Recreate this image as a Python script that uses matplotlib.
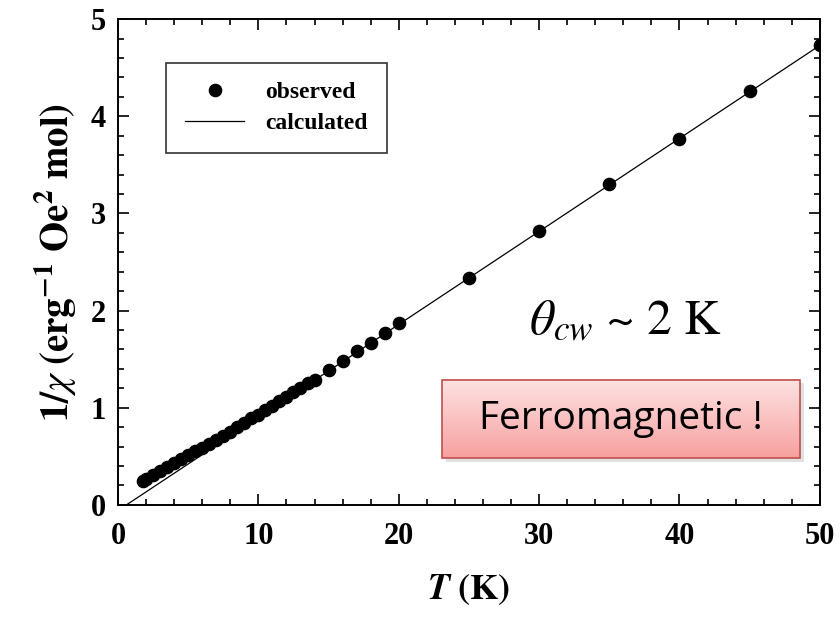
import matplotlib
matplotlib.use('Agg')
import matplotlib.pyplot as plt
import numpy as np
from matplotlib.patches import Rectangle
from matplotlib.ticker import MultipleLocator

plt.rcParams['mathtext.fontset'] = 'stix'

# observed 1/chi data
T_obs = [1.8, 2.0, 2.5, 3.0, 3.5, 4.0, 4.5, 5.0, 5.5, 6.0, 6.5, 7.0, 7.5, 8.0,
         8.5, 9.0, 9.5, 10.0, 10.5, 11.0, 11.5, 12.0, 12.5, 13.0, 13.5, 14.0,
         15, 16, 17, 18, 19, 20, 25, 30, 35, 40, 45, 50]
inv_chi_obs = [0.25, 0.27, 0.31, 0.35, 0.39, 0.43, 0.47, 0.51, 0.55, 0.59,
               0.63, 0.67, 0.71, 0.75, 0.80, 0.84, 0.89, 0.93, 0.98, 1.02,
               1.07, 1.11, 1.16, 1.20, 1.25, 1.29,
               1.39, 1.48, 1.58, 1.67, 1.77, 1.87, 2.34, 2.82, 3.30, 3.77, 4.26, 4.73]

# calculated (Curie-Weiss line end points)
T_calc = [0.6, 50]
inv_chi_calc = [0.0, 4.73]

serif = 'Liberation Serif'

fig = plt.figure(figsize=(8.4, 6.18), dpi=100)
ax = fig.add_axes([0.1405, 0.183, 0.8355, 0.786])

ax.plot(T_obs, inv_chi_obs, 'o', color='black', markersize=8.8, label='observed', zorder=3)
ax.plot(T_calc, inv_chi_calc, '-', color='black', lw=0.9, label='calculated', zorder=2)

ax.set_xlim(0, 50)
ax.set_ylim(0, 5)
ax.xaxis.set_major_locator(MultipleLocator(10))
ax.xaxis.set_minor_locator(MultipleLocator(2))
ax.yaxis.set_major_locator(MultipleLocator(1))
ax.yaxis.set_minor_locator(MultipleLocator(0.2))
ax.tick_params(which='both', direction='in', top=True, right=True, width=1.2)
ax.tick_params(which='major', length=8, labelsize=22)
ax.tick_params(axis='x', which='major', pad=12)
ax.tick_params(axis='y', which='major', pad=9)
ax.tick_params(which='minor', length=4.5)
for lab in ax.get_xticklabels() + ax.get_yticklabels():
    lab.set_fontfamily(serif)
    lab.set_fontweight('bold')
for s in ax.spines.values():
    s.set_linewidth(1.4)

ax.set_xlabel(r'$\mathbfit{T}\ \mathbf{(K)}$', fontsize=26, labelpad=16)
ax.set_ylabel(r'$\mathbf{1/}\chi\ \mathbf{(erg^{-1}\ Oe^{2}\ mol)}$', fontsize=28, labelpad=8)

leg = ax.legend(loc='upper left', bbox_to_anchor=(0.052, 0.935), frameon=True, fancybox=False,
                edgecolor='black', prop={'family': serif, 'weight': 'bold', 'size': 17},
                handlelength=2.5, borderpad=0.8, labelspacing=0.4, handletextpad=0.9)
leg.get_frame().set_linewidth(1.2)

ax.text(29.3, 1.88, r'$\theta_{cw}$ ~ 2 K', fontsize=36, fontfamily='STIXGeneral',
        ha='left', va='center')

# gradient annotation box
x0, x1, y0, y1 = 23.1, 48.6, 0.48, 1.29
ax.add_patch(Rectangle((x0 + 0.3, y0 - 0.04), x1 - x0, y1 - y0, facecolor='#c4c4c4',
                       edgecolor='none', alpha=0.5, zorder=4))
grad = np.linspace(0, 1, 100).reshape(-1, 1)
top_c = np.array([253, 226, 226]) / 255
bot_c = np.array([248, 160, 160]) / 255
img = top_c[None, None, :] * (1 - grad[:, :, None]) + bot_c[None, None, :] * grad[:, :, None]
ax.imshow(img, extent=[x0, x1, y0, y1], origin='upper', aspect='auto', zorder=5)
ax.add_patch(Rectangle((x0, y0), x1 - x0, y1 - y0, facecolor='none',
                       edgecolor='#c0504d', lw=1.2, zorder=6))
ax.text((x0 + x1) / 2, (y0 + y1) / 2, 'Ferromagnetic !', fontsize=28, fontfamily='Open Sans',
        ha='center', va='center', zorder=7)
ax.set_xlim(0, 50)
ax.set_ylim(0, 5)

fig.savefig('out.png', dpi=100)
